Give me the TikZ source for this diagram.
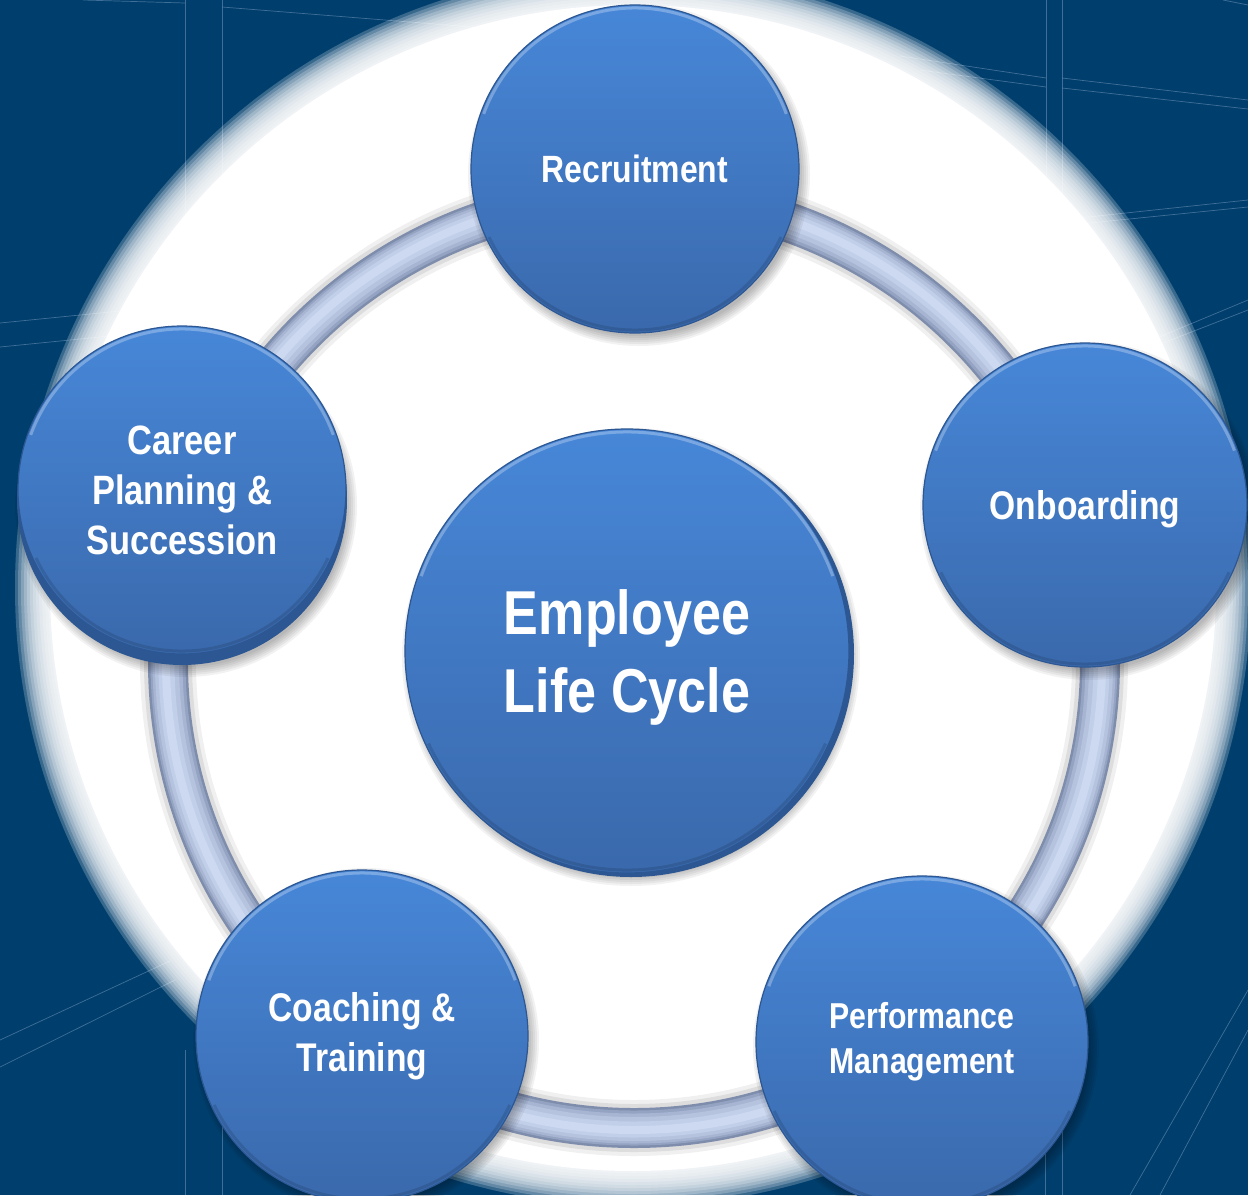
\documentclass[tikz,border=0pt]{standalone}
\usepackage{fontspec}
\setmainfont{Liberation Sans}[FakeStretch=0.84]
\definecolor{bgblue}{HTML}{003F6D}
\definecolor{bglinecol}{HTML}{6A8FB5}
\definecolor{bubbletop}{HTML}{4787D8}
\definecolor{bubblebot}{HTML}{3A69AC}
\definecolor{bubbleedge}{HTML}{2C5793}
\definecolor{ringa}{HTML}{7F8DAD}
\definecolor{ringb}{HTML}{94A3C2}
\definecolor{ringc}{HTML}{A7B5D3}
\definecolor{ringd}{HTML}{B5C3DF}
\definecolor{ringe}{HTML}{C2CFE9}
\definecolor{ringf}{HTML}{CDD9F0}
\newcommand\mybshadow[3]{\foreach \k in {0,...,5}{\fill[black,opacity=0.05] (#1+4,#2+6) circle[radius=#3+7-\k*2];}}
\newcommand\mybevel[3]{%
  \draw[white,opacity=0.28,line width=3pt] (#1,#2) ++(200:#3-3) arc[start angle=200,end angle=340,radius=#3-3];
  \draw[black,opacity=0.12,line width=3pt] (#1,#2) ++(25:#3-3) arc[start angle=25,end angle=155,radius=#3-3];}
\begin{document}
\begin{tikzpicture}[x=1pt,y=-1pt,
  bubble/.style={circle, inner sep=0pt, draw=bubbleedge, line width=1.2pt,
    top color=bubbletop, bottom color=bubblebot, text=white, align=center},
  bgline/.style={draw=bglinecol, line width=0.7pt, opacity=0.6},
  bubfont/.style 2 args={font=\fontsize{#1}{#2}\selectfont\bfseries}]
\useasboundingbox (0,0) rectangle (1248,1195);
\clip (0,0) rectangle (1248,1195);
% background
\fill[bgblue] (0,0) rectangle (1248,1195);
% faint background lines
\draw[bgline] (185,0) -- (185,420);
\draw[bgline] (222,0) -- (222,420);
\draw[bgline] (83,0) -- (185,3);
\draw[bgline] (222,7) -- (560,34);
\draw[bgline] (0,323) -- (140,309);
\draw[bgline] (0,347) -- (130,334);
\draw[bgline] (1046,0) -- (1046,420);
\draw[bgline] (1062,0) -- (1062,420);
\draw[bgline] (900,56) -- (1046,78);
\draw[bgline] (920,70) -- (1046,87);
\draw[bgline] (1062,78) -- (1248,100);
\draw[bgline] (1062,88) -- (1248,109);
\draw[bgline] (1223,0) -- (1248,5);
\draw[bgline] (1060,220) -- (1248,200);
\draw[bgline] (1060,226) -- (1248,207);
\draw[bgline] (1140,345) -- (1248,300);
\draw[bgline] (1140,352) -- (1248,310);
\draw[bgline] (0,1040) -- (170,961);
\draw[bgline] (0,1067) -- (175,980);
\draw[bgline] (185,1050) -- (185,1195);
\draw[bgline] (222,1050) -- (222,1195);
\draw[bgline] (1045,1050) -- (1045,1195);
\draw[bgline] (1062,1050) -- (1062,1195);
\draw[bgline] (1130,1195) -- (1248,990);
\draw[bgline] (1160,1195) -- (1248,1030);
% white glow with soft edge
\foreach \k in {1,...,12}{\fill[white,opacity=0.22] (633,588) circle[radius=582+3*\k];}
\fill[white] (633,588) circle[radius=583];
% ring
\draw[black,opacity=0.06,line width=56pt] (634,662) circle[radius=466];
\draw[black,opacity=0.08,line width=48pt] (634,662) circle[radius=466];
\draw[ringa,line width=40pt] (634,662) circle[radius=466];
\draw[ringb,line width=35pt] (634,662) circle[radius=466];
\draw[ringc,line width=30pt] (634,662) circle[radius=466.5];
\draw[ringd,line width=24pt] (634,662) circle[radius=467];
\draw[ringe,line width=16pt] (634,662) circle[radius=467.5];
\draw[ringf,line width=8pt] (634,662) circle[radius=468];
% shadows
\mybshadow{635}{169}{164}
\mybshadow{1085}{505}{162}
\mybshadow{182}{500}{164}
\mybshadow{362}{1035}{166}
\mybshadow{922}{1042}{166}
\mybshadow{627}{651}{222}
% stacked under-layers
\fill[bubbleedge] (182,500) circle[radius=165];
\fill[bubbleedge] (631,654) circle[radius=223];
% bubbles
\node[bubble, minimum size=328pt, bubfont={38}{46}] (rec) at (635,169) {Recruitment};
\node[bubble, minimum size=324pt, bubfont={40}{48}, text depth=0pt] (onb) at (1085,505) {Onboarding};
\node[bubble, minimum size=328pt, bubfont={41}{50}] (car) at (182,490) {Career\\Planning \&\\Succession};
\node[bubble, minimum size=332pt, bubfont={40}{50}] (coa) at (362,1036) {Coaching \&\\Training};
\node[bubble, minimum size=332pt, bubfont={36}{45}] (per) at (922,1042) {Performance\\Management};
\node[bubble, minimum size=444pt, bubfont={62}{78}, text depth=0pt] (emp) at (627,651) {Employee\\Life Cycle};
\mybevel{635}{169}{164}
\mybevel{1085}{505}{162}
\mybevel{182}{490}{164}
\mybevel{362}{1036}{166}
\mybevel{922}{1042}{166}
\mybevel{627}{651}{222}
\end{tikzpicture}
\end{document}
